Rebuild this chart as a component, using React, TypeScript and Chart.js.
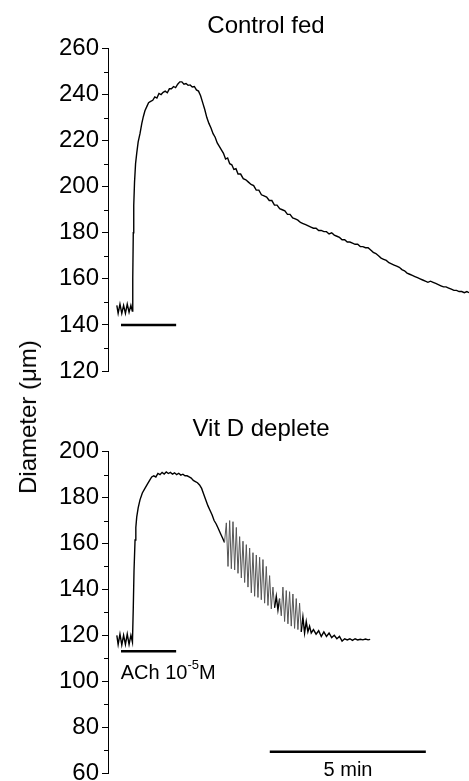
import React, { useEffect, useRef } from "react";
import { Chart, registerables } from "chart.js";

Chart.register(...registerables);

const FONT = '"Liberation Sans", Arial, Helvetica, sans-serif';

// time axis (s)
const timeRange = [0, 694];

// Control fed trace
const controlTime = [
  17, 19.5, 23, 26.5, 30, 33.5, 37, 40.5, 44, 46.7,
  47.6, 48.6, 49.5, 51, 53, 55.2, 58, 61.5, 65, 68, 71, 75, 78, 82, 86, 90,
  94, 98, 102, 106, 110, 114, 118, 122, 126, 130, 134, 138, 142, 146, 150, 154,
  158, 162, 166, 170, 174, 178, 182, 186, 190, 194, 198, 202, 206, 210, 214, 218,
  222, 226, 230, 234, 238, 242, 246, 250, 255, 260, 265, 270, 275, 280, 285, 290,
  295, 300, 305, 310, 315, 320, 325, 330, 335, 340, 345, 350, 355, 360, 365, 370,
  375, 380, 385, 390, 395, 400, 405, 410, 415, 420, 425, 430, 435, 440, 445, 450,
  455, 460, 465, 470, 475, 480, 485, 490, 495, 500, 505, 510, 515, 520, 525, 530,
  535, 540, 545, 550, 555, 560, 565, 570, 575, 580, 585, 590, 595, 600, 605, 610,
  615, 620, 625, 630, 635, 640, 645, 650, 655, 660, 665, 670, 675, 680, 685, 690, 694,
];
const controlDiameter = [
  148.5, 145, 149, 145, 148.5, 145, 149, 145.5, 148.5, 146,
  160, 180, 192, 202, 210, 214.5, 219.5, 223, 227.5, 230.5, 233, 235, 236.5, 237, 237.5, 239,
  238.5, 240.5, 240, 241, 241.5, 240.8, 242.5, 242.5, 243.5, 243, 244.5, 245.5, 245.5, 244.5, 244.8, 244,
  244.2, 243.3, 243.5, 242, 241.5, 239.5, 236.5, 233.5, 230, 227.5, 225.5, 223, 221.5, 219, 217.5, 216,
  214.5, 212, 212.5, 210, 209.5, 207.5, 207.8, 205.5, 205.5, 203.5, 203, 202, 201, 200.5, 198.5, 198.5,
  196.5, 196, 195.5, 194, 194, 192, 192, 190.5, 190, 189.5, 188, 188, 186.5, 186, 185.5, 184.5,
  184, 183.5, 183, 182.5, 182, 182, 181, 181, 180.5, 180.5, 179.5, 180, 179, 178.5, 178, 177,
  177, 176, 176, 175.5, 175, 175, 174, 174, 173.5, 173.5, 172.5, 171.5, 171, 170, 169, 168.5,
  168, 167, 166.5, 166, 165.5, 165, 164, 163.5, 162.5, 162, 161.5, 161, 160.5, 160, 159.5, 159,
  158.5, 159, 158.5, 158, 157.5, 157, 156.5, 156.5, 156, 155.5, 155, 155, 154.5, 154.5, 154, 154.5, 154,
];

// Vit D deplete trace
const vitDTime = [
  17, 19.5, 23, 26.5, 30, 33.5, 37, 40.5, 44, 47,
  48.6, 50, 52, 53.5, 55.2, 58, 61.5, 66, 71, 76, 80, 84, 88, 92, 96, 100,
  104, 108, 112, 116, 120, 124, 128, 132, 136, 140, 144, 148, 152, 156, 160, 164,
  168, 172, 176, 180, 184, 188, 192, 196, 200, 204, 208, 212, 216, 220, 224,
  227.5, 230.7, 233.9, 237.1, 240.3, 243.5, 246.7, 249.9, 253.1, 256.3, 259.5, 262.7,
  265.9, 269.1, 272.3, 275.5, 278.7, 281.9, 285.1, 288.3, 291.5, 294.7, 297.9, 301.1,
  304.3, 307.5, 310.7, 313.9, 317.1, 320.3, 323.5, 326.7, 329.9, 333.1, 336.3, 339.5,
  342.7, 345.9, 349.1, 352.3, 355.5, 358.7, 361.9, 365.1, 368.3, 371.5, 374.7, 377.9,
  381.1, 384.3, 387.5, 390.7, 395, 400, 405, 410, 415, 420, 425, 430, 435, 440, 445, 450,
  455, 460, 465, 470, 475, 480, 485, 490, 495, 500, 504,
];
const vitDDiameter = [
  120, 116, 120.5, 115.8, 120, 116, 120.5, 116, 120, 117,
  132, 148, 161.5, 167, 171.5, 175.5, 179, 182, 184, 186, 187.5, 189, 189.5, 189, 190.5, 190,
  191, 190.3, 191.2, 190.5, 191, 190.2, 190.8, 190, 190.6, 189.8, 190.2, 189.5, 189.5, 189, 188.5, 187.5,
  187, 186.5, 185.5, 184, 181.5, 179, 176.5, 174.5, 172.5, 170, 168.5, 166.5, 164.5, 162.5, 160.5,
  169, 150, 170, 149, 169.5, 148.5, 167, 147, 163, 145, 161, 143,
  159.5, 141, 158, 138.5, 156, 137, 155, 136.5, 154, 135.5, 153, 134,
  150, 133, 146, 131.5, 141, 132, 137, 131, 136, 128.5, 141, 126,
  139.5, 125, 139, 124, 138, 123, 136, 122.5, 134, 121.5, 128, 121,
  126, 121.5, 124, 121, 122.5, 120.5, 122, 119.5, 121.5, 119.5, 121, 119, 120, 118.5, 119.5, 117.5,
  118.5, 118, 118.5, 117.8, 118.5, 118, 118.3, 118, 118.4, 118, 118.2,
];

// axes
const controlTicks = [120, 140, 160, 180, 200, 220, 240, 260];
const controlMinorTicks = [130, 150, 170, 190, 210, 230, 250];
const vitDTicks = [60, 80, 100, 120, 140, 160, 180, 200];
const vitDMinorTicks = [70, 90, 110, 130, 150, 170, 190];

// ACh application bars and 5 min scale bar
const achBarTime = [25, 131];
const controlAchLevel = [140, 140];
const vitDAchLevel = [113, 113];
const scaleBarTime = [311, 611];
const scaleBarLevel = [69.3, 69.3];

type TextItem = {
  text: string;
  x: number;
  y: number;
  size: number;
  align: CanvasTextAlign;
  sup?: string;
  after?: string;
};

function makeChart(
  canvas: HTMLCanvasElement,
  time: number[],
  diam: number[],
  ticks: number[],
  minor: number[],
  bars: { t: number[]; v: number[]; w: number }[],
  padTop: number,
  padBottom: number,
  texts: TextItem[]
) {
  const datasets: any[] = [
    {
      data: time.map((t, i) => ({ x: t, y: diam[i] })),
      borderColor: "#000",
      borderWidth: 1.4,
      pointRadius: 0,
      tension: 0,
      fill: false,
      segment: {
        borderColor: (c: any) =>
          Math.abs(c.p1.parsed.y - c.p0.parsed.y) > 7 && c.p0.parsed.x > 200 ? "#555" : undefined,
        borderWidth: (c: any) =>
          Math.abs(c.p1.parsed.y - c.p0.parsed.y) > 7 && c.p0.parsed.x > 200 ? 1 : undefined,
      },
    },
  ];
  bars.forEach((b) => {
    datasets.push({
      data: b.t.map((t, i) => ({ x: t, y: b.v[i] })),
      borderColor: "#000",
      borderWidth: b.w,
      pointRadius: 0,
      fill: false,
    });
  });

  const extras = {
    id: "extras",
    afterDraw(chart: any) {
      const ctx = chart.ctx as CanvasRenderingContext2D;
      const ys = chart.scales.y;
      const x0 = chart.chartArea.left;
      ctx.save();
      ctx.strokeStyle = "#000";
      ctx.lineWidth = 1;
      minor.forEach((v) => {
        const py = Math.round(ys.getPixelForValue(v)) + 0.5;
        ctx.beginPath();
        ctx.moveTo(x0 - 4, py);
        ctx.lineTo(x0, py);
        ctx.stroke();
      });
      ctx.fillStyle = "#000";
      ctx.textBaseline = "alphabetic";
      texts.forEach((t) => {
        ctx.font = `${t.size}px ${FONT}`;
        ctx.textAlign = t.align;
        ctx.fillText(t.text, t.x, t.y);
        if (t.sup) {
          let cx = t.x + ctx.measureText(t.text).width;
          ctx.font = `${Math.round(t.size * 0.65)}px ${FONT}`;
          ctx.textAlign = "left";
          ctx.fillText(t.sup, cx, t.y - t.size * 0.5);
          cx += ctx.measureText(t.sup).width;
          if (t.after) {
            ctx.font = `${t.size}px ${FONT}`;
            ctx.fillText(t.after, cx, t.y);
          }
        }
      });
      ctx.restore();
    },
  };

  return new Chart(canvas, {
    type: "line",
    data: { datasets },
    options: {
      animation: false,
      responsive: false,
      devicePixelRatio: 1,
      layout: { padding: { top: padTop, bottom: padBottom, left: 0, right: 0 } },
      plugins: { legend: { display: false }, tooltip: { enabled: false }, title: { display: false } },
      scales: {
        x: { type: "linear", min: timeRange[0], max: timeRange[1], display: false },
        y: {
          type: "linear",
          min: ticks[0],
          max: ticks[ticks.length - 1],
          afterFit: (s: any) => {
            s.width = 108;
          },
          afterBuildTicks: (s: any) => {
            s.ticks = ticks.map((v) => ({ value: v }));
          },
          ticks: { color: "#000", font: { family: FONT, size: 24 }, padding: 3 },
          grid: { drawOnChartArea: false, drawTicks: true, tickLength: 6, color: "#000", lineWidth: 1 },
          border: { display: true, color: "#000", width: 1 },
        },
      },
    },
    plugins: [extras],
  });
}

export default function App() {
  const topRef = useRef<HTMLCanvasElement>(null);
  const botRef = useRef<HTMLCanvasElement>(null);

  useEffect(() => {
    const c1 = makeChart(
      topRef.current!,
      controlTime,
      controlDiameter,
      controlTicks,
      controlMinorTicks,
      [{ t: achBarTime, v: controlAchLevel, w: 2.5 }],
      48.5,
      29,
      [{ text: "Control fed", x: 266, y: 33, size: 24, align: "center" }]
    );
    const c2 = makeChart(
      botRef.current!,
      vitDTime,
      vitDDiameter,
      vitDTicks,
      vitDMinorTicks,
      [
        { t: achBarTime, v: vitDAchLevel, w: 2.5 },
        { t: scaleBarTime, v: scaleBarLevel, w: 2.5 },
      ],
      51.7,
      27,
      [
        { text: "Vit D deplete", x: 261, y: 36, size: 24, align: "center" },
        { text: "ACh 10", x: 120.7, y: 279.3, size: 20, align: "left", sup: "-5", after: "M" },
        { text: "5 min", x: 348, y: 376, size: 20, align: "center" },
      ]
    );
    return () => {
      c1.destroy();
      c2.destroy();
    };
  }, []);

  return (
    <div
      style={{
        position: "absolute",
        left: 0,
        top: 0,
        width: 469,
        height: 781,
        overflow: "hidden",
        background: "#fff",
      }}
    >
      <canvas ref={topRef} width={469} height={400} style={{ position: "absolute", left: 0, top: 0 }} />
      <canvas ref={botRef} width={469} height={400} style={{ position: "absolute", left: 0, top: 400 }} />
      <div
        style={{
          position: "absolute",
          left: 28,
          top: 416.7,
          transform: "translate(-50%, -50%) rotate(-90deg)",
          whiteSpace: "nowrap",
          fontFamily: FONT,
          fontSize: 24,
          lineHeight: 1,
          color: "#000",
        }}
      >
        Diameter (μm)
      </div>
    </div>
  );
}
